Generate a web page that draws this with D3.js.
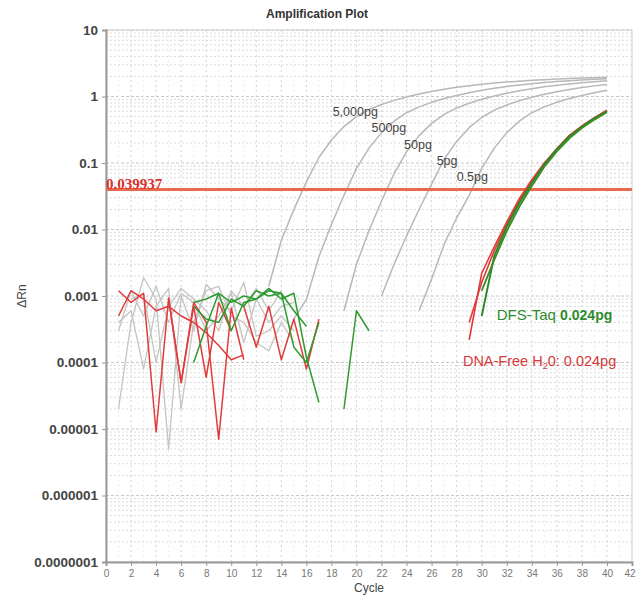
<!DOCTYPE html>
<html><head><meta charset="utf-8">
<script src="https://cdn.jsdelivr.net/npm/d3@7"></script>
<style>body{margin:0;background:#fff;}svg{display:block;font-family:Arial,"Liberation Sans",sans-serif;}</style>
</head><body>
<svg id="c" width="636" height="595"></svg>
<script>
// ---- data ----
const xTicks = [0,2,4,6,8,10,12,14,16,18,20,22,24,26,28,30,32,34,36,38,40,42];
const yTicks = [10,1,0.1,0.01,0.001,0.0001,0.00001,0.000001,0.0000001];
const yTickLabels = ["10","1","0.1","0.01","0.001","0.0001","0.00001","0.000001","0.0000001"];
const threshold = 0.039937;

// standards (start cycle, ΔRn per cycle)
const std5000Start = 13;
const std5000 = [0.0014,0.0069,0.0199,0.052,0.121,0.222,0.353,0.497,0.637,0.758,0.874,0.985,1.089,1.19,1.285,1.373,1.452,1.526,1.592,1.649,1.702,1.75,1.79,1.83,1.862,1.89,1.92,1.943];
const std500Start = 15;
const std500 = [0.00045,0.00089,0.0039,0.0119,0.0327,0.083,0.1675,0.286,0.425,0.57,0.698,0.817,0.931,1.037,1.14,1.239,1.33,1.413,1.49,1.56,1.62,1.675,1.727,1.77,1.81,1.845];
const std50Start = 19;
const std50 = [0.0006,0.003,0.0096,0.0268,0.069,0.147,0.258,0.394,0.54,0.673,0.793,0.908,1.016,1.119,1.219,1.312,1.396,1.475,1.547,1.61,1.665,1.718];
const std5Start = 22;
const std5 = [0.001,0.003,0.008,0.02,0.048,0.114,0.211,0.34,0.483,0.625,0.746,0.863,0.975,1.079,1.18,1.276,1.365,1.445,1.52];
const std05Start = 25;
const std05 = [0.0006,0.0018,0.006,0.015,0.0327,0.083,0.1675,0.286,0.425,0.57,0.698,0.817,0.931,1.037,1.14,1.239];
const stdLabels = ["5,000pg","500pg","50pg","5pg","0.5pg"];
const stdLabelAt = [[18.1,0.585],[21.2,0.336],[23.8,0.187],[26.4,0.107],[28.0,0.062]];

// samples
const dfsTaq1Start = 30;
const dfsTaq1 = [0.0005,0.004,0.011,0.025,0.05,0.095,0.16,0.25,0.35,0.47,0.6];
const dfsTaq2Start = 30;
const dfsTaq2 = [0.0012,0.0035,0.0095,0.022,0.045,0.088,0.15,0.235,0.335,0.45,0.58];
const h2o1Start = 29;
const h2o1 = [0.00022,0.0022,0.0055,0.013,0.029,0.056,0.1,0.165,0.26,0.36,0.48,0.62];
const h2o2Start = 29;
const h2o2 = [0.0004,0.0016,0.0048,0.012,0.027,0.053,0.097,0.16,0.255,0.355,0.475,0.61];

// baseline noise
const grayN1Start = 1;
const grayN1 = [0.00002,0.0004,0.0019,0.0009,0.000005,0.001,0.0003,0.0015,0.0009,0.0006,0.0016,0.00025,0.0003,0.0005,0.0003];
const grayN2Start = 1;
const grayN2 = [0.0004,0.0006,0.00008,0.0007,0.0013,0.00002,0.0004,0.0012,0.0014,0.0005,0.0004,0.0002,0.00015,0.0004,0.0002];
const grayN3Start = 1;
const grayN3 = [0.0003,0.0012,0.0005,0.0014,0.0004,0.0011,0.0008,0.0003,0.0005,0.0011,0.0002,0.0009,0.0004,0.0007,0.0008];
const grayN4Start = 2;
const grayN4 = [0.0009,0.0011,0.0001,0.0007,0.0013,0.0009,0.0006,0.0003,0.0012,0.0007,0.0013,0.0006,0.0012];

const redN1Start = 1;
const redN1 = [0.0012,0.0008,0.0011,0.000009,0.00093,0.00005,0.0008,0.0004,0.000007,0.00066,0.00011];
const redN2Start = 1;
const redN2 = [0.0005,0.0012,0.0009,0.0006,0.0007,0.0005,0.0004,0.00028,0.00018,0.00011,0.00013];
const redN3Start = 5;
const redN3 = [0.0009,0.00005,0.0007,0.00006,0.0008,0.0003];
const redN4Start = 11;
const redN4 = [0.0007,0.00017,0.0007,0.00011,0.00045,0.00008,0.00045];

const greenN1Start = 7;
const greenN1 = [0.0001,0.00035,0.0011,0.0003,0.0008,0.0009,0.0013,0.0009,0.0011,0.00012,0.000025];
const greenN2Start = 7;
const greenN2 = [0.0008,0.0009,0.0011,0.0008,0.001,0.0009,0.0012,0.0011,0.00017,0.0001,0.0004];
const greenN3Start = 7;
const greenN3 = [0.0007,0.00045,0.0004,0.0009,0.0007,0.0012,0.001,0.0011,0.0006,0.00035];
const greenN4Start = 19;
const greenN4 = [0.00002,0.0006,0.0003];

// ---- drawing ----
const svg = d3.select("#c");
const x = d3.scaleLinear().domain([0,42]).range([106,632]);
const y = d3.scaleLog().domain([1e-7,10]).range([562,30]);
const toPts = (start, arr) => arr.map((v,i)=>[start+i, v]);
const line = d3.line().x(d=>x(d[0])).y(d=>y(d[1]));

const GRAY="#b8b8b8", GREEN="#2f9a2f", RED="#e23b3b";

// grid
const grid = svg.append("g");
const minorY = [];
for (let e=-7; e<1; e++) for (let k=2;k<10;k++) minorY.push(k*Math.pow(10,e));
grid.selectAll(".my").data(minorY).join("line")
  .attr("x1",x(0)).attr("x2",x(42)).attr("y1",d=>y(d)).attr("y2",d=>y(d))
  .attr("stroke","#dcdcdc").attr("stroke-width",1).attr("stroke-dasharray","2,2");
grid.selectAll(".My").data(yTicks).join("line")
  .attr("x1",x(0)).attr("x2",x(42)).attr("y1",d=>y(d)).attr("y2",d=>y(d))
  .attr("stroke","#c8c8c8").attr("stroke-width",1).attr("stroke-dasharray","3,2");
grid.selectAll(".vx").data(d3.range(1,42)).join("line")
  .attr("x1",d=>x(d)).attr("x2",d=>x(d)).attr("y1",y(10)).attr("y2",y(1e-7))
  .attr("stroke",d=>d%2===0?"#d4d4d4":"#ececec").attr("stroke-width",1).attr("stroke-dasharray","2,3");

// frame
svg.append("rect").attr("x",x(0)).attr("y",y(10)).attr("width",x(42)-x(0)).attr("height",y(1e-7)-y(10))
  .attr("fill","none").attr("stroke","#cfcfcf");

// axes
const ax = svg.append("g").attr("transform",`translate(0,${y(1e-7)})`)
  .call(d3.axisBottom(x).tickValues(xTicks).tickSize(4).tickPadding(4));
ax.select(".domain").attr("stroke","#999").attr("stroke-width",2);
ax.selectAll(".tick line").attr("stroke","#999");
ax.selectAll("text").attr("fill","#777").attr("font-size","10px");
ax.selectAll("text").filter(d=>d===42).attr("text-anchor","end").attr("dx","3");

const ay = svg.append("g").attr("transform",`translate(${x(0)},0)`)
  .call(d3.axisLeft(y).tickValues(yTicks).tickFormat((d,i)=>yTickLabels[i]).tickSize(4).tickPadding(4));
ay.select(".domain").attr("stroke","#999").attr("stroke-width",2);
ay.selectAll(".tick line").attr("stroke","#999");
ay.selectAll("text").attr("fill","#444").attr("font-size","13.5px").attr("font-weight","bold");

// noise lines
const drawLine = (start, arr, color, w) => svg.append("path").datum(toPts(start,arr))
  .attr("d",line).attr("fill","none").attr("stroke",color).attr("stroke-width",w).attr("stroke-linejoin","round");
[[grayN1Start,grayN1],[grayN2Start,grayN2],[grayN3Start,grayN3],[grayN4Start,grayN4]].forEach(s=>drawLine(s[0],s[1],"#c4c4c4",1.3));
[[std5000Start,std5000],[std500Start,std500],[std50Start,std50],[std5Start,std5],[std05Start,std05]].forEach(s=>drawLine(s[0],s[1],GRAY,1.5));
[[redN1Start,redN1],[redN2Start,redN2],[redN3Start,redN3],[redN4Start,redN4]].forEach(s=>drawLine(s[0],s[1],RED,1.5));
[[greenN1Start,greenN1],[greenN2Start,greenN2],[greenN3Start,greenN3],[greenN4Start,greenN4]].forEach(s=>drawLine(s[0],s[1],GREEN,1.5));

// threshold
svg.append("line").attr("x1",x(0)).attr("x2",x(42)).attr("y1",y(threshold)).attr("y2",y(threshold))
  .attr("stroke","#ea6a4e").attr("stroke-width",3);

// samples
drawLine(h2o1Start,h2o1,RED,1.6);
drawLine(h2o2Start,h2o2,RED,1.6);
drawLine(dfsTaq1Start,dfsTaq1,"#2a8a24",1.9);
drawLine(dfsTaq2Start,dfsTaq2,"#3a8f2a",1.9);

// labels
svg.selectAll(".sl").data(stdLabels).join("text")
  .attr("x",(d,i)=>x(stdLabelAt[i][0])).attr("y",(d,i)=>y(stdLabelAt[i][1])+4)
  .attr("font-size","12.5px").attr("fill","#444").text(d=>d);

svg.append("text").attr("x",x(0)).attr("y",y(threshold)-1)
  .attr("font-family","'Liberation Serif','DejaVu Serif',serif").attr("font-weight","bold")
  .attr("font-size","15px").attr("fill","#d8302c").text("0.039937");

const t1 = svg.append("text").attr("x",x(31.2)).attr("y",y(0.00051)+5).attr("fill","#2f8a2f");
t1.append("tspan").attr("font-size","15px").text("DFS-Taq ");
t1.append("tspan").attr("font-size","14px").attr("font-weight","bold").text("0.024pg");

const t2 = svg.append("text").attr("x",x(28.5)).attr("y",y(0.000106)+5).attr("fill","#d8383a").attr("font-size","14.5px");
t2.append("tspan").text("DNA-Free H");
t2.append("tspan").attr("font-size","9px").attr("dy","3").text("2");
t2.append("tspan").attr("dy","-3").text("0: 0.024pg");

svg.append("text").attr("x",317).attr("y",18).attr("text-anchor","middle")
  .attr("font-size","12px").attr("font-weight","bold").attr("fill","#333").text("Amplification Plot");
svg.append("text").attr("transform","translate(26,296) rotate(-90)").attr("text-anchor","middle")
  .attr("font-size","12px").attr("fill","#444").text("ΔRn");
svg.append("text").attr("x",369).attr("y",592).attr("text-anchor","middle")
  .attr("font-size","12px").attr("fill","#444").text("Cycle");
</script>
</body></html>
